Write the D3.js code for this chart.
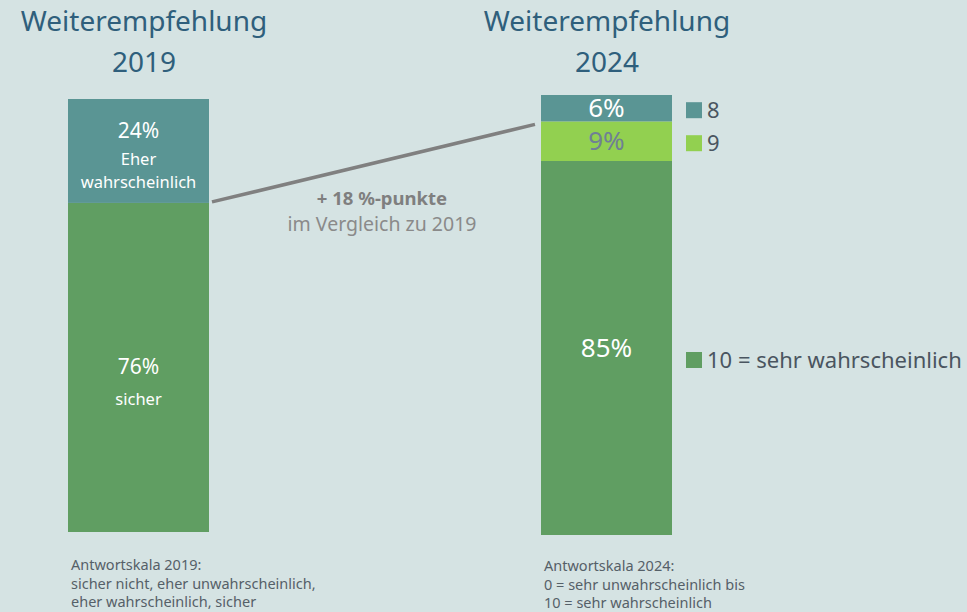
<!DOCTYPE html>
<html>
<head>
<meta charset="utf-8">
<script src="https://cdn.jsdelivr.net/npm/d3@7"></script>
<style>
  body { margin: 0; background: #d5e3e3; }
  svg { display: block; font-family: "Noto Sans", sans-serif; }
</style>
</head>
<body>
<svg></svg>
<script>
// Weiterempfehlung 2019 vs 2024

let width = 967,
    height = 612;

let years = ["2019", "2024"];

// 2019: bottom to top
let labels2019 = ["sicher", "Eher wahrscheinlich"];
let values2019 = [76, 24];

// 2024: bottom to top
let labels2024 = ["10 = sehr wahrscheinlich", "9", "8"];
let values2024 = [85, 9, 6];

let deltaText = ["+ 18 %-punkte", "im Vergleich zu 2019"];
let scaleNotes2019 = ["Antwortskala 2019:", "sicher nicht, eher unwahrscheinlich,", "eher wahrscheinlich, sicher"];
let scaleNotes2024 = ["Antwortskala 2024:", "0 = sehr unwahrscheinlich bis", "10 = sehr wahrscheinlich"];

let colors2019 = ["#609e62", "#5a9594"];
let colors2024 = ["#609e62", "#92d050", "#5a9594"];

let svg = d3.select("svg")
    .attr("width", width)
    .attr("height", height);

svg.append("rect").attr("width", width).attr("height", height).attr("fill", "#d5e3e3");

let titleColor = "#2f5f7c";

// layout of the two columns
let cols = [
    { x: 68, w: 141, top: 99, bottom: 532, titleX: 144 },
    { x: 541, w: 131, top: 95, bottom: 535, titleX: 607 }
];

let y2019 = d3.scaleLinear().domain([0, 100]).range([cols[0].bottom, cols[0].top]);
let y2024 = d3.scaleLinear().domain([0, 100]).range([cols[1].bottom, cols[1].top]);

function stackUp(values) {
    let acc = 0;
    return values.map(v => {
        let d = { y0: acc, y1: acc + v, v: v };
        acc += v;
        return d;
    });
}

// titles
cols.forEach((c, i) => {
    let t = svg.append("text")
        .attr("text-anchor", "middle")
        .attr("fill", titleColor)
        .attr("font-size", 28);
    t.append("tspan").attr("x", c.titleX).attr("y", 31).text("Weiterempfehlung");
    t.append("tspan").attr("x", c.titleX).attr("y", 72).text(years[i]);
});

// bar 2019
let s2019 = stackUp(values2019);
svg.append("g").selectAll("rect")
    .data(s2019)
    .enter().append("rect")
    .attr("x", cols[0].x)
    .attr("width", cols[0].w)
    .attr("y", d => y2019(d.y1))
    .attr("height", d => y2019(d.y0) - y2019(d.y1))
    .attr("fill", (d, i) => colors2019[i]);

let cx0 = cols[0].x + cols[0].w / 2;
// sicher
svg.append("text").attr("x", cx0).attr("y", 374)
    .attr("text-anchor", "middle").attr("fill", "#fff").attr("font-size", 21)
    .text(values2019[0] + "%");
svg.append("text").attr("x", cx0).attr("y", 405)
    .attr("text-anchor", "middle").attr("fill", "#fff").attr("font-size", 16.5)
    .text(labels2019[0]);
// eher wahrscheinlich
svg.append("text").attr("x", cx0).attr("y", y2019(100) + 39)
    .attr("text-anchor", "middle").attr("fill", "#fff").attr("font-size", 21)
    .text(values2019[1] + "%");
let ew = svg.append("text").attr("text-anchor", "middle").attr("fill", "#fff").attr("font-size", 16.5);
ew.append("tspan").attr("x", cx0).attr("y", y2019(100) + 66).text(labels2019[1].split(" ")[0]);
ew.append("tspan").attr("x", cx0).attr("y", y2019(100) + 89).text(labels2019[1].split(" ")[1]);

// bar 2024
let s2024 = stackUp(values2024);
svg.append("g").selectAll("rect")
    .data(s2024)
    .enter().append("rect")
    .attr("x", cols[1].x)
    .attr("width", cols[1].w)
    .attr("y", d => y2024(d.y1))
    .attr("height", d => y2024(d.y0) - y2024(d.y1))
    .attr("fill", (d, i) => colors2024[i]);

let cx1 = cols[1].x + cols[1].w / 2;
svg.append("g").selectAll("text")
    .data(s2024)
    .enter().append("text")
    .attr("x", cx1)
    .attr("y", d => (y2024(d.y0) + y2024(d.y1)) / 2 + 9)
    .attr("text-anchor", "middle")
    .attr("font-size", 26)
    .attr("fill", (d, i) => i === 1 ? "#6f7f95" : "#fff")
    .text(d => d.v + "%");

// legend
let legend = svg.append("g").selectAll("g")
    .data(s2024)
    .enter().append("g")
    .attr("transform", (d, i) => {
        let cy = i === 0 ? (y2024(d.y0) + y2024(d.y1)) / 2 + 12 : (y2024(d.y0) + y2024(d.y1)) / 2 + 2;
        return `translate(686, ${cy})`;
    });
legend.append("rect")
    .attr("x", 0).attr("y", -8).attr("width", 16).attr("height", 16)
    .attr("fill", (d, i) => colors2024[i]);
legend.append("text")
    .attr("x", 21).attr("y", 7.5)
    .attr("font-size", 22)
    .attr("fill", "#4a5560")
    .text((d, i) => labels2024[i]);

// connector line: 76% (2019) -> 94% (2024 top two boxes)
let top2 = values2024[0] + values2024[1];
svg.append("line")
    .attr("x1", cols[0].x + cols[0].w + 3)
    .attr("y1", y2019(values2019[0]) - 1)
    .attr("x2", cols[1].x - 6)
    .attr("y2", y2024(top2) + 3)
    .attr("stroke", "#808080")
    .attr("stroke-width", 3.5);

svg.append("text").attr("x", 382).attr("y", 205)
    .attr("text-anchor", "middle").attr("font-size", 18.5).attr("font-weight", "bold")
    .attr("fill", "#7f7f7f").text(deltaText[0]);
svg.append("text").attr("x", 382).attr("y", 231)
    .attr("text-anchor", "middle").attr("font-size", 19.5)
    .attr("fill", "#8a8a8a").text(deltaText[1]);

// answer scale notes
function notes(lines, x, y0) {
    let t = svg.append("text").attr("font-size", 14.5).attr("fill", "#556068");
    lines.forEach((l, i) => {
        t.append("tspan").attr("x", x).attr("y", y0 + i * 18.5).text(l);
    });
}
notes(scaleNotes2019, 71, 570);
notes(scaleNotes2024, 544, 571);
</script>
</body>
</html>
